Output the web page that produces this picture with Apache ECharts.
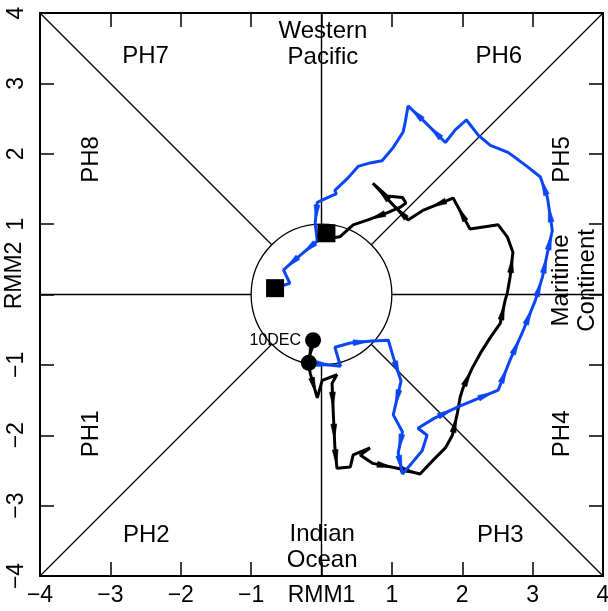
<!DOCTYPE html>
<html>
<head>
<meta charset="utf-8">
<script src="https://cdn.jsdelivr.net/npm/echarts@6/dist/echarts.min.js"></script>
<style>
  html, body { margin: 0; padding: 0; background: #fff; }
  #chart { width: 608px; height: 611px; }
</style>
</head>
<body>
<div id="chart"></div>
<script>
// RMM phase-space trajectories (RMM1, RMM2)
const axisTicks = [-4, -3, -2, -1, 0, 1, 2, 3, 4];

// First period (black), starting 10DEC
const rmm1Black = [-0.12, -0.19, -0.16, -0.06, 0.01, 0.22, 0.15, 0.17, 0.19, 0.22, 0.41, 0.45, 0.69, 0.55, 0.73,
  1.08, 1.40, 1.59, 1.76, 1.86, 1.93, 1.97, 2.01, 2.14, 2.26, 2.40, 2.54, 2.61, 2.64, 2.68, 2.72, 2.64, 2.51,
  2.30, 2.11, 1.87, 1.45, 1.23, 1.02, 0.73, 0.93, 1.15, 1.20, 1.12, 0.93, 0.66, 0.45, 0.26, 0.19, 0.07];
const rmm2Black = [-0.65, -0.97, -1.12, -1.47, -1.22, -1.14, -1.26, -1.74, -2.17, -2.47, -2.45, -2.28, -2.18, -2.28, -2.40,
  -2.47, -2.55, -2.35, -2.18, -2.00, -1.69, -1.46, -1.33, -1.05, -0.83, -0.61, -0.41, -0.08, 0.02, 0.25, 0.60, 0.82, 0.99,
  0.96, 0.93, 1.37, 1.20, 1.06, 1.27, 1.58, 1.40, 1.38, 1.30, 1.24, 1.16, 1.06, 0.99, 0.82, 0.81, 0.87];

// Second period (blue)
const rmm1Blue = [-0.18, 0.27, 0.19, 0.41, 0.72, 0.95, 1.02, 1.13, 1.02, 1.15, 1.09, 1.15, 1.28, 1.43, 1.50, 1.37,
  1.60, 1.93, 2.17, 2.51, 2.68, 2.85, 3.04, 3.14, 3.21, 3.28, 3.21, 3.11, 2.92, 2.80, 2.65, 2.40, 2.23, 2.06,
  1.90, 1.76, 1.47, 1.23, 1.19, 1.16, 1.02, 0.86, 0.69, 0.52, 0.37, 0.19, 0.21, 0.14, -0.06, -0.09, -0.06,
  -0.30, -0.54, -0.45, -0.66];
const rmm2Blue = [-0.97, -1.02, -0.75, -0.69, -0.66, -0.65, -0.89, -1.23, -1.71, -1.95, -2.25, -2.55, -2.40, -2.22, -2.00, -1.90,
  -1.76, -1.60, -1.50, -1.36, -0.93, -0.55, -0.08, 0.25, 0.59, 0.91, 1.38, 1.67, 1.82, 1.91, 2.02, 2.12, 2.26, 2.48,
  2.34, 2.16, 2.45, 2.68, 2.45, 2.31, 2.09, 1.90, 1.87, 1.82, 1.65, 1.48, 1.43, 1.40, 1.31, 1.01, 0.76,
  0.56, 0.35, 0.16, 0.09];

const startDate = '10DEC';

// Region / phase annotations
const regionText = ['Western\nPacific', 'PH7', 'PH6', 'PH8', 'PH5', 'PH1', 'PH4', 'PH2', 'PH3', 'Indian\nOcean', 'Maritime\nContinent'];
</script>
<script>
const FONT = '"Liberation Sans", Arial, Helvetica, sans-serif';
const BLUE = '#0b46f5';

// placement (data units) and rotation of each annotation
const regionLayout = [
  { at: [0.02, 3.56], rot: 0 },
  { at: [-2.50, 3.38], rot: 0 },
  { at: [2.52, 3.38], rot: 0 },
  { at: [-3.27, 1.92], rot: 90 },
  { at: [3.42, 1.92], rot: 90 },
  { at: [-3.27, -1.98], rot: 90 },
  { at: [3.42, -1.98], rot: 90 },
  { at: [-2.49, -3.42], rot: 0 },
  { at: [2.54, -3.42], rot: 0 },
  { at: [0.01, -3.60], rot: 0 },
  { at: [3.60, 0.20], rot: 90 }
];

const pairs = (xs, ys) => xs.map((x, i) => [x, ys[i]]);
const blackPts = pairs(rmm1Black, rmm2Black);
const bluePts = pairs(rmm1Blue, rmm2Blue);

const segs = pts => pts.slice(1).map((p, i) => [pts[i][0], pts[i][1], p[0], p[1]]);

const fmtX = v => (v === 0 ? 'RMM1' : (v < 0 ? '\u2212' + Math.abs(v) : String(v)));
const fmtY = v => (v === 0 ? '' : (v < 0 ? '\u2212' + Math.abs(v) : String(v)));

function baseAxis(extra) {
  return Object.assign({
    type: 'value', min: axisTicks[0], max: axisTicks[axisTicks.length - 1], interval: 1,
    axisLine: { show: true, onZero: false, lineStyle: { color: '#000', width: 2 } },
    axisTick: { show: true, inside: true, length: 14, lineStyle: { color: '#000', width: 1.5 } },
    splitLine: { show: false },
    minorTick: { show: false }
  }, extra);
}

// Phase-diagram frame: unit circle, axes and diagonals outside it
function renderFrame(params, api) {
  const c = api.coord([0, 0]);
  const r = api.size([1, 1])[0];
  const s = Math.SQRT1_2;
  const seg = (a, b, w) => {
    const p = api.coord(a), q = api.coord(b);
    return { type: 'line', shape: { x1: p[0], y1: p[1], x2: q[0], y2: q[1] }, style: { stroke: '#000', lineWidth: w } };
  };
  const t = api.coord([-4, 0.27]);
  return {
    type: 'group',
    children: [
      { type: 'circle', shape: { cx: c[0], cy: c[1], r: r }, style: { fill: null, stroke: '#000', lineWidth: 1.3 } },
      seg([-4, 0], [-1, 0], 1.6), seg([1, 0], [4, 0], 1.6),
      seg([0, -4], [0, -1], 1.4), seg([0, 1], [0, 4], 1.4),
      seg([-4, -4], [-s, -s], 1.2), seg([s, s], [4, 4], 1.2),
      seg([-4, 4], [-s, s], 1.2), seg([s, -s], [4, -4], 1.2),
      // y-axis title
      { type: 'text', x: t[0] - 25, y: t[1], rotation: Math.PI / 2,
        style: { text: 'RMM2', fill: '#000', font: '23px ' + FONT, align: 'center', verticalAlign: 'middle' } }
    ]
  };
}

function renderText(params, api) {
  const i = params.dataIndex;
  const p = api.coord([api.value(0), api.value(1)]);
  return {
    type: 'text', x: p[0], y: p[1], rotation: regionLayout[i].rot * Math.PI / 180,
    style: {
      text: regionText[i], fill: '#000', font: '24px ' + FONT,
      align: 'center', verticalAlign: 'middle', lineHeight: 26
    }
  };
}

// arrowheads at segment midpoints showing the direction of travel
function arrowRenderer(color) {
  return function (params, api) {
    const a = api.coord([api.value(0), api.value(1)]);
    const b = api.coord([api.value(2), api.value(3)]);
    const dx = b[0] - a[0], dy = b[1] - a[1];
    const len = Math.hypot(dx, dy);
    if (len < 20) return null;
    const ux = dx / len, uy = dy / len, nx = -uy, ny = ux;
    const mx = (a[0] + b[0]) / 2, my = (a[1] + b[1]) / 2;
    const L = 8, W = 3;
    return {
      type: 'polygon',
      shape: { points: [[mx + ux * L, my + uy * L], [mx - ux * L + nx * W, my - uy * L + ny * W], [mx - ux * L - nx * W, my - uy * L - ny * W]] },
      style: { fill: color, stroke: color, lineWidth: 0.5 }
    };
  };
}

const chart = echarts.init(document.getElementById('chart'), null, { renderer: 'canvas' });

chart.setOption({
  animation: false,
  backgroundColor: '#fff',
  textStyle: { fontFamily: FONT },
  grid: { left: 40, right: 5, top: 13, bottom: 35, containLabel: false, outerBoundsMode: 'none' },
  xAxis: [
    baseAxis({ position: 'bottom', axisLabel: { show: true, margin: 8, color: '#000', fontSize: 23, fontFamily: FONT, formatter: fmtX, showMinLabel: true, showMaxLabel: true } }),
    baseAxis({ position: 'top', axisLabel: { show: false } })
  ],
  yAxis: [
    baseAxis({ position: 'left', axisLabel: { show: true, margin: 12, rotate: 90, color: '#000', fontSize: 23, fontFamily: FONT, formatter: fmtY, showMinLabel: true, showMaxLabel: true } }),
    baseAxis({ position: 'right', axisLabel: { show: false } })
  ],
  series: [
    { type: 'custom', name: 'frame', silent: true, z: 1, clip: false, data: [[0, 0]], renderItem: renderFrame },
    { type: 'custom', name: 'labels', silent: true, z: 1, data: regionLayout.map(l => l.at), renderItem: renderText },
    { type: 'line', name: 'black', data: blackPts, symbol: 'none', z: 3,
      lineStyle: { color: '#000', width: 3, opacity: 1 } },
    { type: 'custom', name: 'black arrows', silent: true, z: 3, data: segs(blackPts), renderItem: arrowRenderer('#000') },
    { type: 'line', name: 'blue', data: bluePts, symbol: 'none', z: 4,
      lineStyle: { color: BLUE, width: 3, opacity: 1 } },
    { type: 'custom', name: 'blue arrows', silent: true, z: 4, data: segs(bluePts), renderItem: arrowRenderer(BLUE) },
    { type: 'scatter', name: 'start', z: 6, symbol: 'circle', symbolSize: 16,
      itemStyle: { color: '#000', opacity: 1 },
      data: [
        { value: blackPts[0], label: { show: true, position: 'left', distance: 4, formatter: startDate, color: '#000', fontSize: 16, fontFamily: FONT } },
        { value: bluePts[0] }
      ] },
    { type: 'scatter', name: 'end', z: 6, symbol: 'rect', symbolSize: 18,
      itemStyle: { color: '#000', opacity: 1 },
      data: [blackPts[blackPts.length - 1], bluePts[bluePts.length - 1]] }
  ]
});
</script>
</body>
</html>
